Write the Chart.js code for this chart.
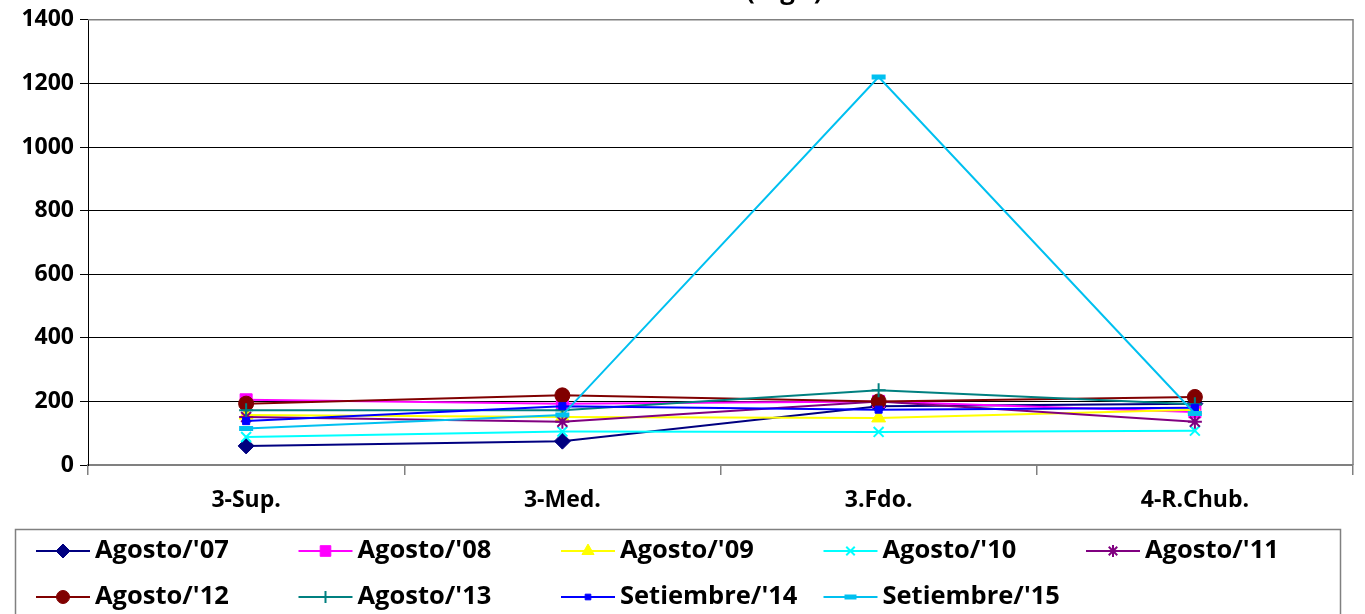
<!DOCTYPE html>
<html>
<head>
<meta charset="utf-8">
<script src="https://cdn.jsdelivr.net/npm/chart.js@4/dist/chart.umd.min.js"></script>
<style>
html,body{margin:0;padding:0;background:#fff;overflow:hidden;}
canvas{display:block;}
</style>
</head>
<body>
<canvas id="c" width="1365" height="614"></canvas>
<script>
const categories = ["3-Sup.", "3-Med.", "3.Fdo.", "4-R.Chub."];
const seriesNames = ["Agosto/'07", "Agosto/'08", "Agosto/'09", "Agosto/'10", "Agosto/'11",
                     "Agosto/'12", "Agosto/'13", "Setiembre/'14", "Setiembre/'15"];
const ago07 = [60, 75, 185, 193];
const ago08 = [205, 193, 200, 167];
const ago09 = [157, 151, 148, 174];
const ago10 = [88, 105, 104, 108];
const ago11 = [151, 136, 200, 136];
const ago12 = [193, 219, 200, 214];
const ago13 = [172, 172, 235, 191];
const set14 = [138, 185, 174, 180];
const set15 = [115, 157, 1220, 162];
const yTicks = [0, 200, 400, 600, 800, 1000, 1200, 1400];
const titleText = "(mg/l)";

const seriesValues = [ago07, ago08, ago09, ago10, ago11, ago12, ago13, set14, set15];
const colors = ["#000080", "#FF00FF", "#FFFF00", "#00FFFF", "#800080", "#800000", "#008080", "#0000FF", "#00C0F0"];
const styles = [
  {pointStyle: 'rectRot', radius: 8, bw: 1},
  {pointStyle: 'rect', radius: 8.5, bw: 1},
  {pointStyle: 'triangle', radius: 8, bw: 1},
  {pointStyle: 'crossRot', radius: 7, bw: 2},
  {pointStyle: 'star', radius: 7, bw: 2},
  {pointStyle: 'circle', radius: 7.5, bw: 1},
  {pointStyle: 'cross', radius: 7, bw: 2},
  {pointStyle: 'rect', radius: 5, bw: 1},
  {pointStyle: 'line', radius: 7, bw: 5}
];

const FONT = "'Open Sans'";

const datasets = seriesNames.map((name, i) => ({
  label: name,
  data: seriesValues[i],
  borderColor: colors[i],
  backgroundColor: colors[i],
  pointBackgroundColor: colors[i],
  pointBorderColor: colors[i],
  pointStyle: styles[i].pointStyle,
  pointRadius: styles[i].radius,
  pointBorderWidth: styles[i].bw,
  borderWidth: 2,
  tension: 0,
  fill: false,
  order: seriesNames.length - 1 - i
}));

const decorPlugin = {
  id: 'decor',
  beforeDatasetsDraw(chart) {
    const a = chart.chartArea, ctx = chart.ctx;
    ctx.save();
    ctx.strokeStyle = '#808080';
    ctx.lineWidth = 1.5;
    ctx.beginPath();
    ctx.moveTo(a.left, a.top);
    ctx.lineTo(a.right, a.top);
    ctx.lineTo(a.right, a.bottom);
    ctx.stroke();
    ctx.restore();
  },
  afterDraw(chart) {
    const ctx = chart.ctx;
    ctx.save();
    // title (cut off at top)
    ctx.fillStyle = '#000';
    ctx.font = "bold 26px " + FONT;
    ctx.textAlign = 'left';
    ctx.textBaseline = 'alphabetic';
    ctx.fillText(titleText, 746, -1);
    // legend box
    ctx.strokeStyle = '#808080';
    ctx.lineWidth = 1.5;
    ctx.strokeRect(15.5, 529.5, 1325, 100);
    ctx.font = "bold 25.5px " + FONT;
    ctx.textBaseline = 'middle';
    seriesNames.forEach((name, i) => {
      const col = i % 5, row = Math.floor(i / 5);
      const x0 = 36 + col * 262.5;
      const y = 551 + row * 46;
      ctx.strokeStyle = colors[i];
      ctx.lineWidth = 2;
      ctx.beginPath();
      ctx.moveTo(x0, y);
      ctx.lineTo(x0 + 54, y);
      ctx.stroke();
      ctx.fillStyle = colors[i];
      ctx.strokeStyle = colors[i];
      ctx.lineWidth = styles[i].bw;
      Chart.helpers.drawPoint(ctx, {pointStyle: styles[i].pointStyle, radius: Math.max(4, styles[i].radius - 1), rotation: 0, borderWidth: styles[i].bw}, x0 + 27, y);
      ctx.fillStyle = '#000';
      ctx.fillText(name, x0 + 59, y);
    });
    ctx.restore();
  }
};

new Chart(document.getElementById('c'), {
  type: 'line',
  data: {labels: categories, datasets},
  plugins: [decorPlugin],
  options: {
    responsive: false,
    animation: false,
    layout: {padding: {left: 0, top: 18, right: 5, bottom: 0}},
    plugins: {legend: {display: false}, tooltip: {enabled: false}, title: {display: false}},
    scales: {
      x: {
        offset: true,
        grid: {offset: true, drawOnChartArea: false, color: '#808080', tickLength: 10, lineWidth: 1.5},
        border: {color: '#808080', width: 2},
        ticks: {color: '#000', font: {family: FONT, weight: 'bold', size: 23}, padding: 12, maxRotation: 0},
        afterFit(s) { s.height = 149; }
      },
      y: {
        min: 0, max: 1400,
        afterBuildTicks(s) { s.ticks = yTicks.map(v => ({value: v})); },
        grid: {color: '#000', tickLength: 8, lineWidth: 1},
        border: {color: '#000', width: 1},
        ticks: {color: '#000', font: {family: FONT, weight: 'bold', size: 23}, padding: 6,
                callback: (v) => String(v)},
        afterFit(s) { s.width = 88; }
      }
    }
  }
});
</script>
</body>
</html>
